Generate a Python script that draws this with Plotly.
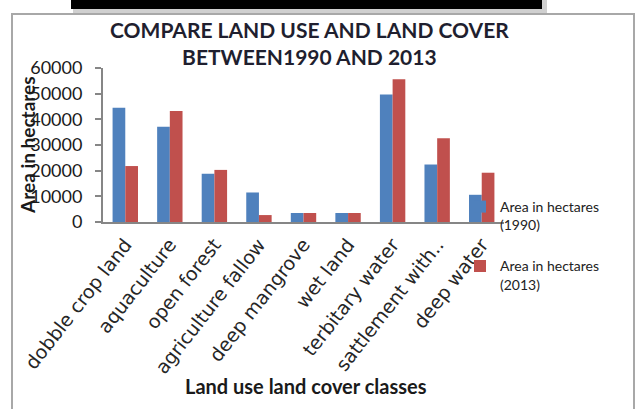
import plotly.graph_objects as go

categories = ["dobble crop land", "aquaculture", "open forest", "agriculture fallow",
              "deep mangrove", "wet land", "terbitary water", "sattlement with..", "deep water"]
area_1990 = [44500, 37100, 18800, 11500, 3500, 3500, 49700, 22400, 10600]
area_2013 = [21800, 43200, 20300, 2700, 3500, 3500, 55600, 32600, 19200]
series_names = ["Area in hectares<br>(1990)", "Area in hectares<br>(2013)"]
y_ticks = [0, 10000, 20000, 30000, 40000, 50000, 60000]

W, H = 640, 409
L, R, T, B = 103, 640 - 504, 68, 409 - 222
pw, ph = W - L - R, H - T - B

def px(x):
    return (x - L) / pw

def py(y):
    return (H - B - y) / ph

FONT = "Lato"

fig = go.Figure()
fig.add_trace(go.Bar(x=categories, y=area_1990, name=series_names[0],
                     marker=dict(color="#4F81BD", line=dict(width=0)), legendgroup="a"))
fig.add_trace(go.Bar(x=categories, y=area_2013, name=series_names[1],
                     marker=dict(color="#C0504D", line=dict(width=0)), legendgroup="b"))

shapes = [
    dict(type="rect", xref="paper", yref="paper", x0=px(12), x1=px(634), y0=py(14), y1=py(440),
         line=dict(color="#a8a8a8", width=2), fillcolor="rgba(0,0,0,0)", layer="below"),
    dict(type="rect", xref="paper", yref="paper", x0=px(73), x1=px(547), y0=py(-5), y1=py(13),
         line=dict(width=0), fillcolor="#d0d0d0", layer="below"),
    dict(type="rect", xref="paper", yref="paper", x0=px(71), x1=px(542), y0=py(-5), y1=py(9),
         line=dict(width=0), fillcolor="#000000", layer="below"),
]

annotations = [
    dict(text="<b>COMPARE LAND USE AND LAND COVER<br>BETWEEN1990 AND 2013</b>", xref="paper", yref="paper",
         x=px(309), y=py(43), xanchor="center", yanchor="middle", showarrow=False,
         font=dict(family=FONT, size=21, color="#1f1f2f")),
    dict(text="<b>Area in hectares</b>", xref="paper", yref="paper", textangle=-90,
         x=px(27), y=py(145), xanchor="center", yanchor="middle", showarrow=False,
         font=dict(family=FONT, size=19, color="#1a1a1a")),
    dict(text="<b>Land use land cover classes</b>", xref="paper", yref="paper",
         x=px(306), y=py(386), xanchor="center", yanchor="middle", showarrow=False,
         font=dict(family=FONT, size=20, color="#1a1a1a")),
]

fig.update_layout(
    width=W, height=H,
    margin=dict(l=L, r=R, t=T, b=B, pad=0),
    paper_bgcolor="white", plot_bgcolor="white",
    barmode="group", bargap=0.43, bargroupgap=0,
    showlegend=True,
    legend=dict(x=px(460), y=py(191), xanchor="left", yanchor="top",
                font=dict(family=FONT, size=14, color="#222222"),
                traceorder="grouped", tracegroupgap=20, valign="top",
                bgcolor="rgba(0,0,0,0)"),
    shapes=shapes, annotations=annotations,
    xaxis=dict(tickangle=-52, tickfont=dict(family="DejaVu Sans", size=19, color="#262626"),
               showline=True, linecolor="#868686", linewidth=2, ticks="",
               ticklabelstandoff=2, showgrid=False, zeroline=False),
    yaxis=dict(range=[0, 60000], tickvals=y_ticks, ticktext=[str(v) for v in y_ticks],
               tickfont=dict(family=FONT, size=18, color="#1a1a1a"),
               showline=True, linecolor="#868686", linewidth=2, ticks="outside",
               ticklen=6, tickcolor="#868686", tickwidth=2, ticklabelstandoff=9,
               showgrid=False, zeroline=False),
)

fig.write_html("out.html")
